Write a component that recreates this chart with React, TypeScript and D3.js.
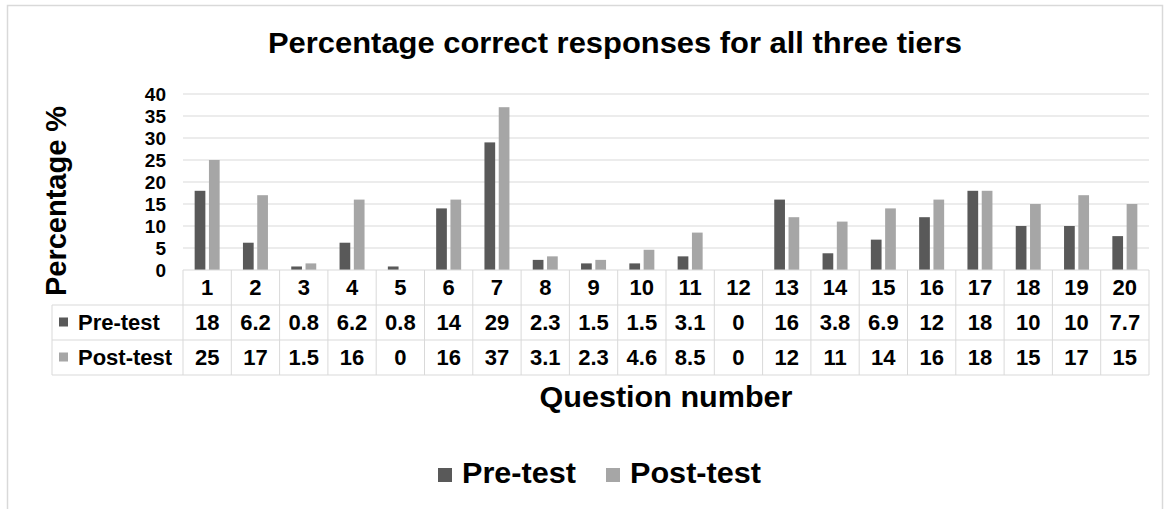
import React, { useEffect, useRef } from 'react';
import * as d3 from 'd3';

const questions = ['1', '2', '3', '4', '5', '6', '7', '8', '9', '10', '11', '12', '13', '14', '15', '16', '17', '18', '19', '20'];
const preTest = [18, 6.2, 0.8, 6.2, 0.8, 14, 29, 2.3, 1.5, 1.5, 3.1, 0, 16, 3.8, 6.9, 12, 18, 10, 10, 7.7];
const postTest = [25, 17, 1.5, 16, 0, 16, 37, 3.1, 2.3, 4.6, 8.5, 0, 12, 11, 14, 16, 18, 15, 17, 15];
const seriesNames = ['Pre-test', 'Post-test'];
const yTicks = [0, 5, 10, 15, 20, 25, 30, 35, 40];

const colors = ['#595959', '#a6a6a6'];
const font = '"Liberation Sans", Arial, sans-serif';

export default function App() {
  const ref = useRef<SVGSVGElement>(null);

  useEffect(() => {
    const svg = d3.select(ref.current);
    svg.selectAll('*').remove();

    const width = 1170;
    const height = 509;
    const plot = { left: 183, right: 1149, top: 94, bottom: 270 };
    const rowH = 35;
    const tableLeft = 52;

    // outer frame
    svg.append('rect')
      .attr('x', 7.5).attr('y', 5.5)
      .attr('width', 1155).attr('height', 530)
      .attr('fill', '#fff')
      .attr('stroke', '#d9d9d9')
      .attr('stroke-width', 1.5);

    svg.append('text')
      .attr('x', 615).attr('y', 53)
      .attr('text-anchor', 'middle')
      .attr('font-size', 29).attr('font-weight', 'bold')
      .attr('textLength', 694).attr('lengthAdjust', 'spacingAndGlyphs')
      .text('Percentage correct responses for all three tiers');

    const x = d3.scaleBand().domain(questions).range([plot.left, plot.right]).padding(0);
    const inner = d3.scaleBand().domain(seriesNames).range([0, 25]).paddingInner(0.25);
    const y = d3.scaleLinear().domain([0, 40]).range([plot.bottom, plot.top]);

    // gridlines
    svg.append('g').selectAll('line')
      .data(yTicks.filter(d => d > 0))
      .enter().append('line')
      .attr('x1', plot.left).attr('x2', plot.right)
      .attr('y1', d => y(d)).attr('y2', d => y(d))
      .attr('stroke', '#d9d9d9').attr('stroke-width', 1);

    // y tick labels
    svg.append('g').selectAll('text')
      .data(yTicks)
      .enter().append('text')
      .attr('x', 166).attr('y', d => y(d))
      .attr('text-anchor', 'end')
      .attr('dominant-baseline', 'central')
      .attr('font-size', 19).attr('font-weight', 'bold')
      .text(d => d);

    // y title
    svg.append('text')
      .attr('transform', 'translate(66,201) rotate(-90)')
      .attr('text-anchor', 'middle')
      .attr('font-size', 29).attr('font-weight', 'bold')
      .text('Percentage %');

    // bars
    const series = [preTest, postTest];
    series.forEach((vals, si) => {
      svg.append('g').selectAll('rect')
        .data(vals)
        .enter().append('rect')
        .attr('x', (d, i) => x(questions[i])! + x.bandwidth() / 2 - 12.5 + inner(seriesNames[si])!)
        .attr('y', d => y(d))
        .attr('width', inner.bandwidth())
        .attr('height', d => plot.bottom - y(d))
        .attr('fill', colors[si]);
    });

    // data table
    const t = svg.append('g');
    const lineColor = '#d9d9d9';
    t.append('line')
      .attr('x1', plot.left).attr('x2', plot.right)
      .attr('y1', plot.bottom).attr('y2', plot.bottom)
      .attr('stroke', lineColor);
    [1, 2, 3].forEach(r => {
      t.append('line')
        .attr('x1', tableLeft).attr('x2', plot.right)
        .attr('y1', plot.bottom + r * rowH).attr('y2', plot.bottom + r * rowH)
        .attr('stroke', lineColor);
    });
    t.append('line')
      .attr('x1', tableLeft).attr('x2', tableLeft)
      .attr('y1', plot.bottom + rowH).attr('y2', plot.bottom + 3 * rowH)
      .attr('stroke', lineColor);
    t.selectAll('line.col')
      .data([...questions.map(q => x(q)!), plot.right])
      .enter().append('line')
      .attr('class', 'col')
      .attr('x1', d => d).attr('x2', d => d)
      .attr('y1', plot.bottom).attr('y2', plot.bottom + 3 * rowH)
      .attr('stroke', lineColor);

    t.selectAll('text.cat')
      .data(questions)
      .enter().append('text')
      .attr('class', 'cat')
      .attr('x', d => x(d)! + x.bandwidth() / 2)
      .attr('y', plot.bottom + rowH / 2)
      .attr('text-anchor', 'middle')
      .attr('dominant-baseline', 'central')
      .attr('font-size', 22).attr('font-weight', 'bold')
      .text(d => d);

    series.forEach((vals, si) => {
      const cy = plot.bottom + rowH * (si + 1) + rowH / 2;
      t.append('rect')
        .attr('x', 59).attr('y', cy - 5)
        .attr('width', 9).attr('height', 9)
        .attr('fill', colors[si]);
      t.append('text')
        .attr('x', 78).attr('y', cy)
        .attr('dominant-baseline', 'central')
        .attr('font-size', 22).attr('font-weight', 'bold')
        .text(seriesNames[si]);
      t.selectAll('text.v' + si)
        .data(vals)
        .enter().append('text')
        .attr('class', 'v' + si)
        .attr('x', (d, i) => x(questions[i])! + x.bandwidth() / 2)
        .attr('y', cy)
        .attr('text-anchor', 'middle')
        .attr('dominant-baseline', 'central')
        .attr('font-size', 22).attr('font-weight', 'bold')
        .text(d => String(d));
    });

    // x title
    svg.append('text')
      .attr('x', 666).attr('y', 407)
      .attr('text-anchor', 'middle')
      .attr('font-size', 29).attr('font-weight', 'bold')
      .attr('textLength', 253).attr('lengthAdjust', 'spacingAndGlyphs')
      .text('Question number');

    // legend
    const legendX = [438, 606];
    const legendW = [114, 131];
    seriesNames.forEach((name, i) => {
      svg.append('rect')
        .attr('x', legendX[i]).attr('y', 468)
        .attr('width', 14).attr('height', 14)
        .attr('fill', colors[i]);
      svg.append('text')
        .attr('x', legendX[i] + 24).attr('y', 483)
        .attr('font-size', 29).attr('font-weight', 'bold')
        .attr('textLength', legendW[i]).attr('lengthAdjust', 'spacingAndGlyphs')
        .text(name);
    });

    svg.attr('width', width).attr('height', height);
  }, []);

  return (
    <svg
      ref={ref}
      width={1170}
      height={509}
      style={{ position: 'absolute', left: 0, top: 0, fontFamily: font, fill: '#000' }}
    />
  );
}
